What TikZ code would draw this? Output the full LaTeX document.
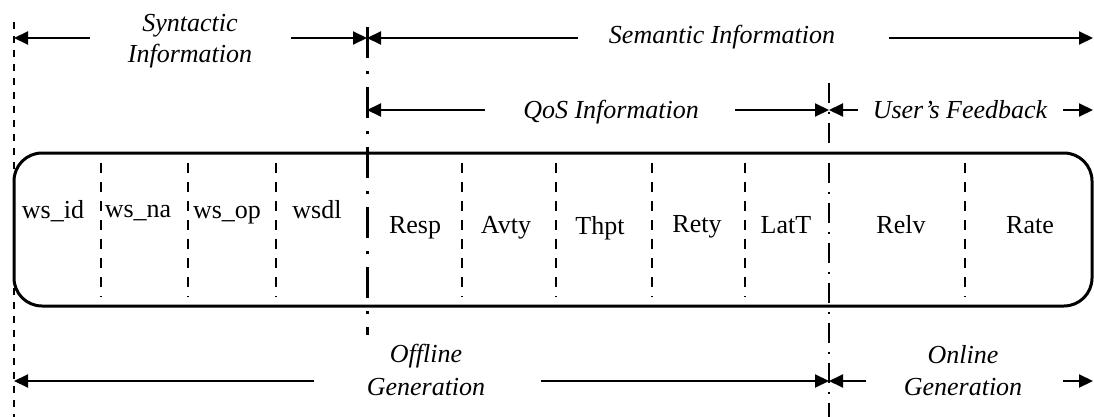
\documentclass[tikz,border=0pt]{standalone}
\usepackage{fontspec}
\setmainfont{Liberation Serif}
\usetikzlibrary{arrows.meta}

\begin{document}
\begin{tikzpicture}[x=1pt, y=-1pt,
  lbl/.style={font=\fontsize{26}{31}\selectfont, inner sep=0pt, anchor=base},
  grouplbl/.style={font=\fontsize{26}{31}\selectfont\itshape, inner sep=0pt, anchor=base},
  arr/.style={line width=2pt, -{Triangle[length=14pt,width=13pt]}},
  sep/.style={line width=1.3pt, dash pattern=on 10pt off 9pt},
  edgeline/.style={line width=1.5pt, dash pattern=on 7pt off 7pt},
  bigdiv/.style={line width=3pt, dash pattern=on 31pt off 13pt on 3pt off 13pt},
  smalldiv/.style={line width=2pt, dash pattern=on 20pt off 9pt on 2pt off 9pt},
  record/.style={draw, line width=3pt, rounded corners=28pt, inner sep=0pt}
]
\useasboundingbox (0,0) rectangle (1094,417);

% record with its fields
\node[record, minimum width=1078pt, minimum height=153pt] (rec) at (553,229.5) {};

% field separators
\foreach \x in {101,188,276,462,556,652,745,965}
  \draw[sep] (\x,163) -- (\x,297);

% field names
\node[lbl] (fid)  at (53,218)   {ws\_id};
\node[lbl] (fna)  at (138,217)  {ws\_na};
\node[lbl] (fop)  at (227,218)  {ws\_op};
\node[lbl] (fwsd) at (317,218)  {wsdl};
\node[lbl] (fres) at (415,233)  {Resp};
\node[lbl] (favt) at (506,233)  {Avty};
\node[lbl] (fthp) at (600,234)  {Thpt};
\node[lbl] (fret) at (697,232)  {Rety};
\node[lbl] (flat) at (786,233)  {LatT};
\node[lbl] (frel) at (901,233)  {Relv};
\node[lbl] (frat) at (1030,233) {Rate};

% boundary lines
\coordinate (leftTop) at (14,22);
\coordinate (leftBot) at (14,417);
\coordinate (midTop)  at (367,27);
\coordinate (midBot)  at (367,335);
\coordinate (rgtTop)  at (829,83);
\coordinate (rgtBot)  at (829,417);
\draw[edgeline] (leftTop) -- (leftBot);
\draw[bigdiv]   (midTop) -- (midBot);
\draw[smalldiv] (rgtTop) -- (rgtBot);

% group captions
\node[grouplbl] (syn1) at (190,32)  {Syntactic};
\node[grouplbl] (syn2) at (190,63)  {Information};
\node[grouplbl] (sem)  at (722,44)  {Semantic Information};
\node[grouplbl] (qos)  at (611,118) {QoS Information};
\node[grouplbl] (ufb)  at (960,119) {User’s Feedback};
\node[grouplbl] (off1) at (426,362) {Offline};
\node[grouplbl] (off2) at (426,395) {Generation};
\node[grouplbl] (on1)  at (963,363) {Online};
\node[grouplbl] (on2)  at (963,395) {Generation};

% extent arrows, top row
\coordinate (synLs) at (90,38);   \coordinate (synLe) at (14,38);
\coordinate (synRs) at (291,38);  \coordinate (synRe) at (367,38);
\coordinate (semLs) at (578,38);  \coordinate (semLe) at (367,38);
\coordinate (semRs) at (889,38);  \coordinate (semRe) at (1093,38);
\draw[arr] (synLs) -- (synLe);
\draw[arr] (synRs) -- (synRe);
\draw[arr] (semLs) -- (semLe);
\draw[arr] (semRs) -- (semRe);

% extent arrows, middle row
\coordinate (qosLs) at (485,110); \coordinate (qosLe) at (367,110);
\coordinate (qosRs) at (735,110); \coordinate (qosRe) at (829,110);
\coordinate (ufbLs) at (858,110); \coordinate (ufbLe) at (829,110);
\coordinate (ufbRs) at (1063,110);\coordinate (ufbRe) at (1093,110);
\draw[arr] (qosLs) -- (qosLe);
\draw[arr] (qosRs) -- (qosRe);
\draw[arr] (ufbLs) -- (ufbLe);
\draw[arr] (ufbRs) -- (ufbRe);

% extent arrows, bottom row
\coordinate (offLs) at (314,381); \coordinate (offLe) at (14,381);
\coordinate (offRs) at (541,381); \coordinate (offRe) at (829,381);
\coordinate (onLs)  at (866,381); \coordinate (onLe)  at (829,381);
\coordinate (onRs)  at (1063,381);\coordinate (onRe)  at (1093,381);
\draw[arr] (offLs) -- (offLe);
\draw[arr] (offRs) -- (offRe);
\draw[arr] (onLs) -- (onLe);
\draw[arr] (onRs) -- (onRe);
\end{tikzpicture}
\end{document}
